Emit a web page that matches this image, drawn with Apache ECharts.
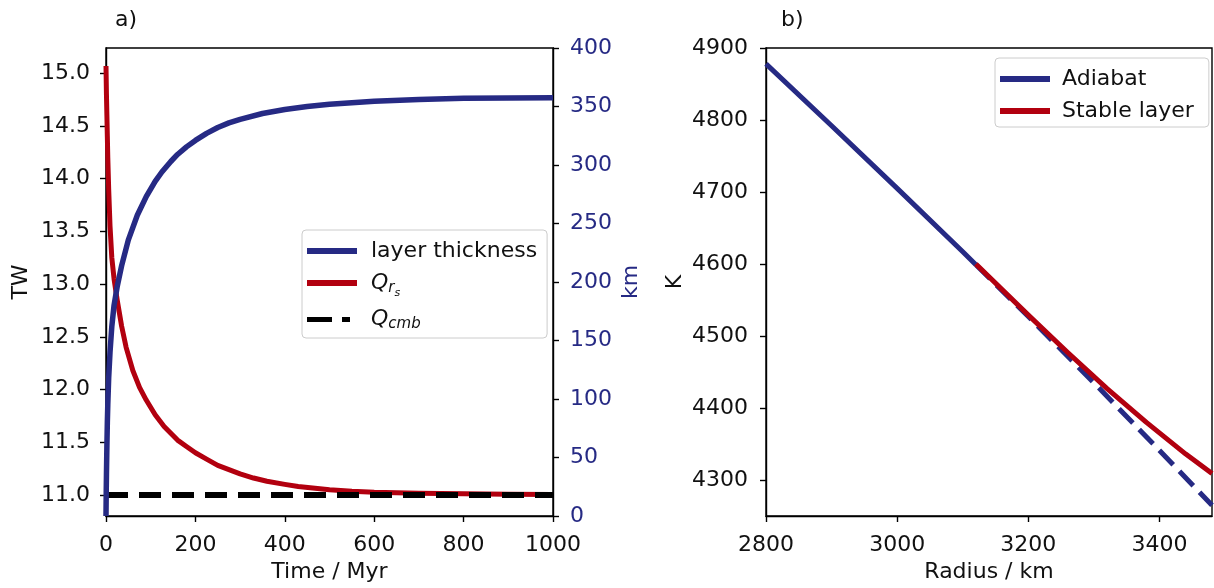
<!DOCTYPE html>
<html>
<head>
<meta charset="utf-8">
<script src="https://cdn.jsdelivr.net/npm/echarts@6/dist/echarts.min.js"></script>
<style>
  html, body { margin: 0; padding: 0; background: #fff; }
  #chart { width: 1214px; height: 588px; }
</style>
</head>
<body>
<div id="chart"></div>
<script>
// a) Q_rs heat flow (TW) against time
var qrsTime = [0, 1, 2, 3, 4, 6, 9, 13, 18, 25, 35, 45, 60, 75, 90, 110, 130, 160, 180, 200, 225, 250, 275, 300, 330, 360, 400, 430, 500, 550, 600, 700, 800, 900, 1000];
var qrsTW = [15.07, 14.8, 14.6, 14.4, 14.2, 13.9, 13.55, 13.25, 13.05, 12.85, 12.6, 12.4, 12.18, 12.02, 11.9, 11.76, 11.65, 11.52, 11.46, 11.4, 11.34, 11.28, 11.24, 11.2, 11.16, 11.13, 11.1, 11.08, 11.05, 11.035, 11.025, 11.015, 11.01, 11.006, 11.004];
// a) layer thickness (km) against time
var thickTime = [0, 0.5, 1, 2, 3, 4, 6, 9, 13, 18, 25, 35, 50, 70, 90, 110, 125, 145, 160, 180, 200, 225, 250, 275, 300, 350, 400, 450, 500, 600, 700, 800, 900, 1000];
var thickKm = [0, 20, 35, 60, 80, 95, 118, 140, 162, 180, 196, 214, 236, 257, 273, 286, 294, 303, 309, 315.5, 321, 327, 332, 336, 339, 344, 347.5, 350, 352, 354.5, 356, 357, 357.3, 357.5];
// a) Q_cmb (TW)
var cmbTime = [0, 1000];
var cmbTW = [11.0, 11.0];
var twTicks = [11.0, 11.5, 12.0, 12.5, 13.0, 13.5, 14.0, 14.5, 15.0];

// b) temperature profiles
var adiabatRadius = [2800, 2900, 3000, 3100, 3120, 3200, 3300, 3400, 3480];
var adiabatK = [4878, 4792, 4705, 4617, 4599, 4527, 4435, 4341, 4265];
var layerStart = 3120;
var stableRadius = [3120, 3200, 3260, 3320, 3380, 3440, 3480];
var stableK = [4600, 4529, 4477, 4427, 4380, 4336, 4309];
var radiusTicks = [2800, 3000, 3200, 3400];
var kTicks = [4300, 4400, 4500, 4600, 4700, 4800, 4900];

var BLUE = '#262a84';
var RED = '#b2000f';
var FONT = 'DejaVu Sans';
var FS = 22;

function pairs(xs, ys) {
  return xs.map(function (x, i) { return [x, ys[i]]; });
}
var adiabatSolid = pairs(adiabatRadius, adiabatK).filter(function (p) { return p[0] <= layerStart; });
var adiabatDash = pairs(adiabatRadius, adiabatK).filter(function (p) { return p[0] >= layerStart; });

var axisBase = {
  axisLine: { show: true, onZero: false, lineStyle: { color: '#000', width: 1.4 } },
  axisTick: { show: true, length: 6, lineStyle: { color: '#000', width: 1.4 } },
  axisLabel: { color: '#111', fontFamily: FONT, fontSize: FS, margin: 16, formatter: function (v) { return String(v); } },
  splitLine: { show: false },
  nameTextStyle: { color: '#111', fontFamily: FONT, fontSize: FS }
};
function ax(extra) {
  return echarts.util.merge(echarts.util.clone(axisBase), extra, true);
}

var myChart = echarts.init(document.getElementById('chart'), null, { renderer: 'canvas' });
var option = {
  animation: false,
  backgroundColor: '#fff',
  title: [
    { text: 'a)', left: 110, top: 4, textStyle: { fontFamily: FONT, fontSize: FS, fontWeight: 'normal', color: '#111' } },
    { text: 'b)', left: 776, top: 4, textStyle: { fontFamily: FONT, fontSize: FS, fontWeight: 'normal', color: '#111' } }
  ],
  grid: [
    { left: 106, top: 48, width: 447, height: 470, show: true, borderColor: '#000', borderWidth: 1.4, backgroundColor: 'transparent' },
    { left: 766, top: 48, width: 446, height: 470, show: true, borderColor: '#000', borderWidth: 1.4, backgroundColor: 'transparent' }
  ],
  xAxis: [
    ax({ type: 'value', gridIndex: 0, min: 0, max: 1000, interval: 200, name: 'Time / Myr', nameLocation: 'middle', nameGap: 45,
      axisLabel: { margin: 18 } }),
    ax({ type: 'value', gridIndex: 1, min: 2800, max: 3480, name: 'Radius / km', nameLocation: 'middle', nameGap: 45,
      axisTick: { customValues: radiusTicks }, axisLabel: { customValues: radiusTicks, margin: 18 } })
  ],
  yAxis: [
    ax({ type: 'value', gridIndex: 0, min: 10.8, max: 15.24, position: 'left', name: 'TW', nameLocation: 'middle', nameGap: 74,
      axisTick: { customValues: twTicks },
      axisLabel: { customValues: twTicks, formatter: function (v) { return v.toFixed(1); } } }),
    ax({ type: 'value', gridIndex: 0, min: 0, max: 400, interval: 50, position: 'right', name: 'km', nameLocation: 'middle', nameGap: 67,
      axisLabel: { color: BLUE, margin: 17 }, nameTextStyle: { color: BLUE } }),
    ax({ type: 'value', gridIndex: 1, min: 4250, max: 4900, position: 'left', name: 'K', nameLocation: 'middle', nameGap: 80,
      axisTick: { customValues: kTicks }, axisLabel: { customValues: kTicks, margin: 18 } })
  ],
  legend: [
    {
      left: 302, top: 230, orient: 'vertical', itemWidth: 50, itemHeight: 6, itemGap: 10,
      padding: [10, 10, 6, 5], borderColor: '#ccc', borderWidth: 1, borderRadius: 4, backgroundColor: '#fff',
      textStyle: {
        color: '#111', fontFamily: FONT, fontSize: FS, padding: [0, 0, 0, 9],
        rich: {
          q: { fontFamily: FONT, fontSize: FS, fontStyle: 'italic', color: '#111' },
          r: { fontFamily: FONT, fontSize: 15, fontStyle: 'italic', color: '#111', padding: [10, 0, 0, 0] },
          s: { fontFamily: FONT, fontSize: 11, fontStyle: 'italic', color: '#111', padding: [20, 0, 0, 0] },
          c: { fontFamily: FONT, fontSize: 15, fontStyle: 'italic', color: '#111', padding: [10, 0, 0, 0] }
        }
      },
      formatter: function (name) {
        if (name === 'Qrs') return '{q|Q}{r|r}{s|s}';
        if (name === 'Qcmb') return '{q|Q}{c|cmb}';
        return name;
      },
      data: [
        { name: 'layer thickness', icon: 'rect' },
        { name: 'Qrs', icon: 'rect' },
        { name: 'Qcmb', icon: 'path://M0,0H25V5H0Z M35,0H43V5H35Z M50,0V5' }
      ]
    },
    {
      left: 995, top: 58, orient: 'vertical', itemWidth: 50, itemHeight: 6, itemGap: 10,
      padding: [10, 15, 5, 5], borderColor: '#ccc', borderWidth: 1, borderRadius: 4, backgroundColor: '#fff',
      textStyle: { color: '#111', fontFamily: FONT, fontSize: FS, padding: [0, 0, 0, 7] },
      data: [
        { name: 'Adiabat', icon: 'rect' },
        { name: 'Stable layer', icon: 'rect' }
      ]
    }
  ],
  series: [
    {
      name: 'Qrs', type: 'line', xAxisIndex: 0, yAxisIndex: 0, showSymbol: false, symbol: 'none', z: 2,
      color: RED, lineStyle: { color: RED, width: 5, join: 'round' },
      data: pairs(qrsTime, qrsTW)
    },
    {
      name: 'Qcmb', type: 'line', xAxisIndex: 0, yAxisIndex: 0, showSymbol: false, symbol: 'none', z: 3,
      color: '#000', lineStyle: { color: '#000', width: 6, type: [22, 11], cap: 'butt' },
      data: pairs(cmbTime, cmbTW)
    },
    {
      name: 'layer thickness', type: 'line', xAxisIndex: 0, yAxisIndex: 1, showSymbol: false, symbol: 'none', z: 4,
      color: BLUE, lineStyle: { color: BLUE, width: 5.5, join: 'round' },
      data: pairs(thickTime, thickKm)
    },
    {
      name: 'Adiabat', type: 'line', xAxisIndex: 1, yAxisIndex: 2, showSymbol: false, symbol: 'none', z: 3,
      color: BLUE, lineStyle: { color: BLUE, width: 5 },
      data: adiabatSolid
    },
    {
      name: 'Adiabat (extrapolated)', type: 'line', xAxisIndex: 1, yAxisIndex: 2, showSymbol: false, symbol: 'none', z: 2,
      color: BLUE, lineStyle: { color: BLUE, width: 5, type: [20, 9], cap: 'butt' },
      data: adiabatDash
    },
    {
      name: 'Stable layer', type: 'line', xAxisIndex: 1, yAxisIndex: 2, showSymbol: false, symbol: 'none', z: 4,
      color: RED, lineStyle: { color: RED, width: 5, join: 'round' },
      data: pairs(stableRadius, stableK)
    }
  ]
};
myChart.setOption(option);
</script>
</body>
</html>
